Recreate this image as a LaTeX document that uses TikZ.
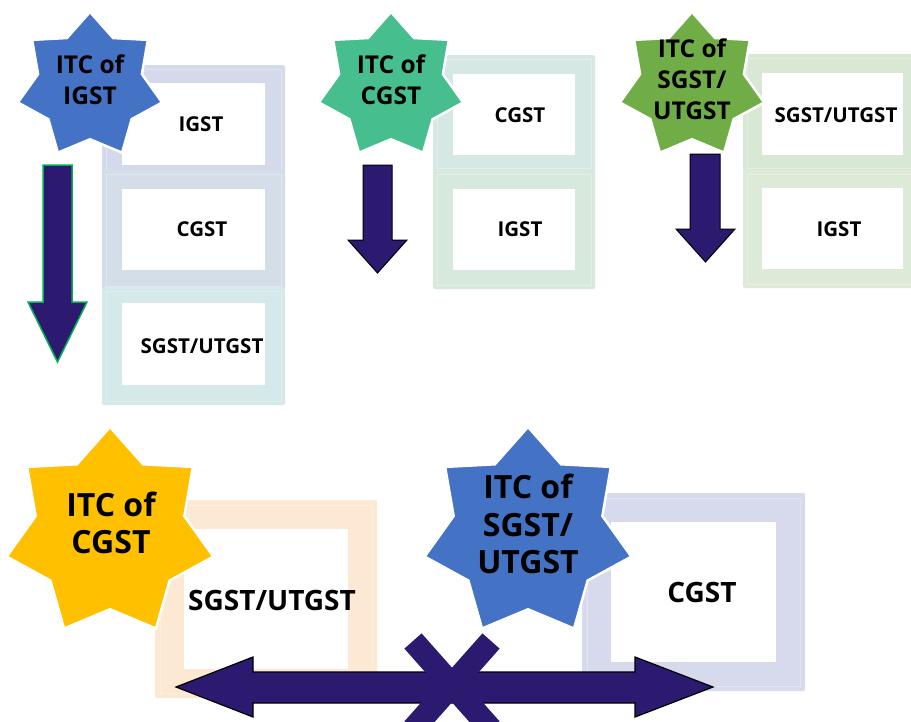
\documentclass[tikz,border=0pt]{standalone}
\usepackage{fontspec}
\setmainfont{Open Sans}
\usetikzlibrary{shapes.geometric}
\definecolor{starblue}{HTML}{4472C4}
\definecolor{starmint}{HTML}{46BE8E}
\definecolor{stargreen}{HTML}{70AD47}
\definecolor{staryellow}{HTML}{FFC000}
\definecolor{indigo}{HTML}{2B1A6F}
\definecolor{arrowgreen}{HTML}{00B050}
\definecolor{frA}{HTML}{D4D9EB}
\definecolor{frB}{HTML}{D3DEE8}
\definecolor{frC}{HTML}{D5E8EA}
\definecolor{frD}{HTML}{D5E8E3}
\definecolor{frE}{HTML}{D7E9DD}
\definecolor{frF}{HTML}{D8E8D5}
\definecolor{frG}{HTML}{DDEAD7}
\definecolor{frH}{HTML}{FDE9D3}
\definecolor{frI}{HTML}{D6DAEC}
\begin{document}
\begin{tikzpicture}[x=1pt,y=-1pt,
  starshape/.style={shape=star, star points=7, star point ratio=1.39, inner sep=0pt,
    draw=white, line width=2.5pt},
  smallstar/.style={starshape, minimum size=148pt},
  bigstar/.style={starshape, minimum size=212pt},
  startxt/.style={font=\bfseries\fontsize{24.5}{31}\selectfont, align=center, inner sep=0pt},
  bigstartxt/.style={font=\bfseries\fontsize{32}{37.5}\selectfont, align=center, inner sep=0pt},
  boxtxt/.style={font=\bfseries\fontsize{20.5}{24}\selectfont, inner sep=0pt, text height=14.5pt, text depth=0pt},
  bigboxtxt/.style={font=\bfseries\fontsize{28}{32}\selectfont, inner sep=0pt, text height=20pt, text depth=0pt},
  blockarrow/.style={fill=indigo, draw=black, line width=1pt, line join=miter},
  innerline/.style={draw=white, draw opacity=0.3, line width=0.6pt},
]
\useasboundingbox (0,0) rectangle (911,721);
\fill[white] (0,0) rectangle (911,721);

% ---------- frames, column 1 ----------
\fill[frA, rounded corners=2pt] (102,65) rectangle (285,185);
\draw[innerline] (106,69) rectangle (281,181);
\fill[white] (122,83) rectangle (265,165);
\fill[frB, rounded corners=2pt] (102,170) rectangle (285,290);
\draw[innerline] (106,174) rectangle (281,286);
\fill[white] (122,189) rectangle (265,270);
\fill[frC, rounded corners=2pt] (102,287) rectangle (285,405);
\draw[innerline] (106,291) rectangle (281,401);
\fill[white] (122,303) rectangle (265,385);

% ---------- frames, column 2 ----------
\fill[frD, rounded corners=2pt] (433,55) rectangle (595,172);
\draw[innerline] (437,59) rectangle (591,168);
\fill[white] (453,74) rectangle (575,155);
\fill[frE, rounded corners=2pt] (433,170) rectangle (595,289);
\draw[innerline] (437,174) rectangle (591,285);
\fill[white] (453,189) rectangle (575,270);

% ---------- frames, column 3 ----------
\fill[frF, rounded corners=2pt] (743,54) rectangle (925,172);
\draw[innerline] (747,58) rectangle (921,168);
\fill[white] (762,73) rectangle (903,155);
\fill[frG, rounded corners=2pt] (743,170) rectangle (925,288);
\draw[innerline] (747,174) rectangle (921,284);
\fill[white] (762,188) rectangle (903,269);

% ---------- frames, bottom ----------
\fill[frH, rounded corners=2pt] (155,500) rectangle (377,698);
\draw[innerline] (160,505) rectangle (372,693);
\fill[white] (184,529) rectangle (348,669);
\fill[frI, rounded corners=2pt] (582,493) rectangle (805,691);
\draw[innerline] (587,498) rectangle (800,686);
\fill[white] (611,522) rectangle (776,662);

% ---------- down arrows ----------
\draw[blockarrow, draw=arrowgreen, line width=1.5pt]
  (43,165) -- (72,165) -- (72,302) -- (87,302) -- (57.5,362) -- (28,302) -- (43,302) -- cycle;
\draw[blockarrow]
  (363,165) -- (392,165) -- (392,240) -- (407,240) -- (377.5,273) -- (348,240) -- (363,240) -- cycle;
\draw[blockarrow]
  (690,154) -- (720,154) -- (720,229) -- (735,229) -- (705.5,262) -- (676,229) -- (690,229) -- cycle;

% ---------- double arrow and cross ----------
\draw[blockarrow, line width=1.2pt]
  (176,687) -- (253,657) -- (253,672) -- (635,672) -- (635,657) -- (713,687)
  -- (635,717) -- (635,703) -- (253,703) -- (253,717) -- cycle;
\draw[indigo, line width=23pt] (413,641) -- (491,729);
\draw[indigo, line width=23pt] (491,641) -- (413,729);

% ---------- stars ----------
\node[smallstar, fill=starblue] (s1) at (90,86) {};
\node[smallstar, fill=starmint] (s2) at (391,86) {};
\node[smallstar, fill=stargreen] (s3) at (692,86) {};
\node[bigstar, fill=staryellow] (s4) at (110,533) {};
\node[bigstar, fill=starblue] (s5) at (528,533) {};

\node[startxt] (t1) at (90,80) {ITC of\\IGST};
\node[startxt] (t2) at (391,80) {ITC of\\CGST};
\node[startxt] (t3) at (692,79) {ITC of\\SGST/\\UTGST};
\node[bigstartxt] (t4) at (111,523) {ITC of\\CGST};
\node[bigstartxt] (t5) at (528,524) {ITC of\\SGST/\\UTGST};

% ---------- box texts ----------
\node[boxtxt] (b1) at (201,124) {IGST};
\node[boxtxt] (b2) at (202,229) {CGST};
\node[boxtxt] (b3) at (202,346) {SGST/UTGST};
\node[boxtxt] (b4) at (520,115) {CGST};
\node[boxtxt] (b5) at (520,229) {IGST};
\node[boxtxt] (b6) at (836,115) {SGST/UTGST};
\node[boxtxt] (b7) at (839,229) {IGST};
\node[bigboxtxt] (b8) at (272,600) {SGST/UTGST};
\node[bigboxtxt] (b9) at (702,592) {CGST};
\end{tikzpicture}
\end{document}
